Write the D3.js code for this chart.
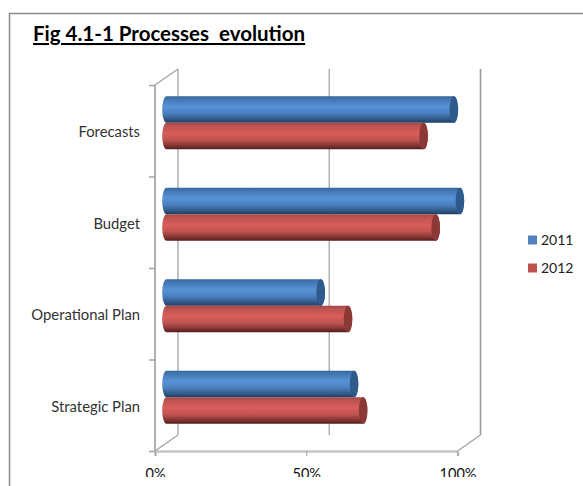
<!DOCTYPE html>
<html>
<head>
<meta charset="utf-8">
<script src="https://cdnjs.cloudflare.com/ajax/libs/d3/7.9.0/d3.min.js"></script>
<style>
  html, body { margin: 0; padding: 0; background: #fff; }
  svg { display: block; }
  text { font-family: Lato, "Open Sans", sans-serif; }
</style>
</head>
<body>
<svg id="chart" width="583" height="486"></svg>
<script>
const categories = ["Forecasts", "Budget", "Operational Plan", "Strategic Plan"];
const seriesNames = ["2011", "2012"];
const values2011 = [95, 97, 51, 62];
const values2012 = [85, 89, 60, 65];
const axisTicks = [0, 50, 100];

const svg = d3.select("#chart");

// Plot box: the front plane, with the back wall pushed up and to the right
const plot = { left: 155, right: 457.5, top: 85, bottom: 451 };
const depth = { x: 23, y: -16 };
const capRx = 4.3;

const x = d3.scaleLinear().domain([0, 100]).range([plot.left, plot.right]);
const y = d3.scaleBand().domain(categories).range([plot.top, plot.bottom]);
const ySeries = d3.scaleBand().domain(seriesNames)
  .range([0, y.bandwidth()]).paddingInner(0).paddingOuter(0.726);

// Outer frame: only the top and left edges remain in view
svg.append("line").attr("x1", 9.5).attr("x2", 9.5).attr("y1", 13).attr("y2", 486)
  .attr("stroke", "#8c8c8c").attr("stroke-width", 1.5);
svg.append("line").attr("x1", 9).attr("x2", 583).attr("y1", 13.5).attr("y2", 13.5)
  .attr("stroke", "#8c8c8c").attr("stroke-width", 1.5);

// Title
svg.append("text").attr("x", 33).attr("y", 41)
  .attr("font-size", 20.5).attr("font-weight", 700).attr("fill", "#000")
  .attr("text-decoration", "underline")
  .style("white-space", "pre")
  .text("Fig 4.1-1 Processes  evolution");

// Cylinder shading
const defs = svg.append("defs");
function cylinderGradient(id, stops) {
  const g = defs.append("linearGradient").attr("id", id)
    .attr("x1", 0).attr("x2", 0).attr("y1", 0).attr("y2", 1);
  stops.forEach(([offset, color]) => g.append("stop").attr("offset", offset).attr("stop-color", color));
}
cylinderGradient("shade-2011", [[0, "#36659b"], [0.12, "#4477b2"], [0.4, "#5892d8"], [0.65, "#4a7fbd"], [0.88, "#2f5785"], [1, "#1f3c5e"]]);
cylinderGradient("shade-2012", [[0, "#a34845"], [0.12, "#bd5350"], [0.4, "#d95d5a"], [0.65, "#bf5350"], [0.88, "#7d3230"], [1, "#4f1d1c"]]);

// The page ends just below the value labels, cutting them through the baseline
defs.append("clipPath").attr("id", "axis-clip").append("rect")
  .attr("x", 0).attr("y", -20).attr("width", 583).attr("height", 46);

const capFill = { "2011": "#2e5a8c", "2012": "#8a3936" };

// Back wall gridlines
svg.append("g").selectAll("line").data(axisTicks).join("line")
  .attr("x1", d => x(d) + depth.x).attr("x2", d => x(d) + depth.x)
  .attr("y1", plot.top + depth.y).attr("y2", plot.bottom + depth.y)
  .attr("stroke", d => d === 100 ? "#9a9a9a" : "#b4b4b4")
  .attr("stroke-width", 1.6);

// Depth edges joining the front plane to the back wall
const depthEdges = [
  [plot.left, plot.top], [plot.left, plot.bottom], [plot.right, plot.bottom]
];
svg.append("g").selectAll("line").data(depthEdges).join("line")
  .attr("x1", d => d[0]).attr("y1", d => d[1])
  .attr("x2", d => d[0] + depth.x).attr("y2", d => d[1] + depth.y)
  .attr("stroke", "#a0a0a0").attr("stroke-width", 1.2);

// Value axis
const xAxis = svg.append("g")
  .attr("transform", `translate(0,${plot.bottom})`)
  .attr("clip-path", "url(#axis-clip)")
  .call(d3.axisBottom(x).tickValues(axisTicks).tickSize(5).tickPadding(13).tickFormat(d => d + "%"));
xAxis.select(".domain").attr("stroke", "#c4c4c4").attr("stroke-width", 2.4);
xAxis.selectAll("line").attr("stroke", "#a0a0a0").attr("stroke-width", 1);
xAxis.selectAll("text").attr("font-size", 14.5).attr("fill", "#111")
  .style("font-family", "Lato, sans-serif");

// Category axis: ticks fall on band edges, labels at band centres
const yTicks = svg.append("g")
  .attr("transform", `translate(${plot.left},0)`)
  .call(d3.axisLeft(d3.scaleLinear().domain([0, 4]).range([plot.top, plot.bottom]))
    .tickValues(d3.range(5)).tickSize(6).tickFormat(""));
yTicks.select(".domain").attr("stroke", "#b0b0b0").attr("stroke-width", 2).attr("d", `M0,${plot.top}V${plot.bottom}`);
yTicks.selectAll("line").attr("stroke", "#a0a0a0").attr("stroke-width", 1.4);

svg.append("g").selectAll("text").data(categories).join("text")
  .attr("x", 140)
  .attr("y", d => y(d) + y.bandwidth() / 2 + 1)
  .attr("dy", "0.36em")
  .attr("text-anchor", "end")
  .attr("font-size", 14.8)
  .attr("fill", "#333")
  .text(d => d);

// Bars sit halfway into the depth of the chart
const barDx = depth.x / 2;
const barDy = depth.y / 2;
const rows = categories.flatMap((c, i) => [
  { cat: c, series: "2011", value: values2011[i] },
  { cat: c, series: "2012", value: values2012[i] }
]);

const bar = svg.append("g").selectAll("g").data(rows).join("g")
  .attr("transform", d => `translate(${x(0) + barDx},${y(d.cat) + ySeries(d.series) + barDy})`);

const h = ySeries.bandwidth();
bar.append("path")
  .attr("fill", d => `url(#shade-${d.series})`)
  .attr("d", d => {
    const w = x(d.value) - x(0);
    return `M0,0H${w}A${capRx},${h / 2} 0 0 1 ${w},${h}H0A${capRx},${h / 2} 0 0 1 0,0Z`;
  });
bar.append("ellipse")
  .attr("cx", d => x(d.value) - x(0))
  .attr("cy", h / 2)
  .attr("rx", capRx)
  .attr("ry", h / 2)
  .attr("fill", d => capFill[d.series]);

// Legend
const legendY = d3.scalePoint().domain(seriesNames).range([240, 268]);
const legend = svg.append("g").selectAll("g").data(seriesNames).join("g")
  .attr("transform", d => `translate(528,${legendY(d)})`);
legend.append("rect").attr("x", 0).attr("y", -4.5).attr("width", 9).attr("height", 9)
  .attr("fill", d => d === "2011" ? "#4f81bd" : "#c0504d");
legend.append("text").attr("x", 13).attr("dy", "0.36em")
  .attr("font-size", 14).attr("fill", "#222").text(d => d);
</script>
</body>
</html>
